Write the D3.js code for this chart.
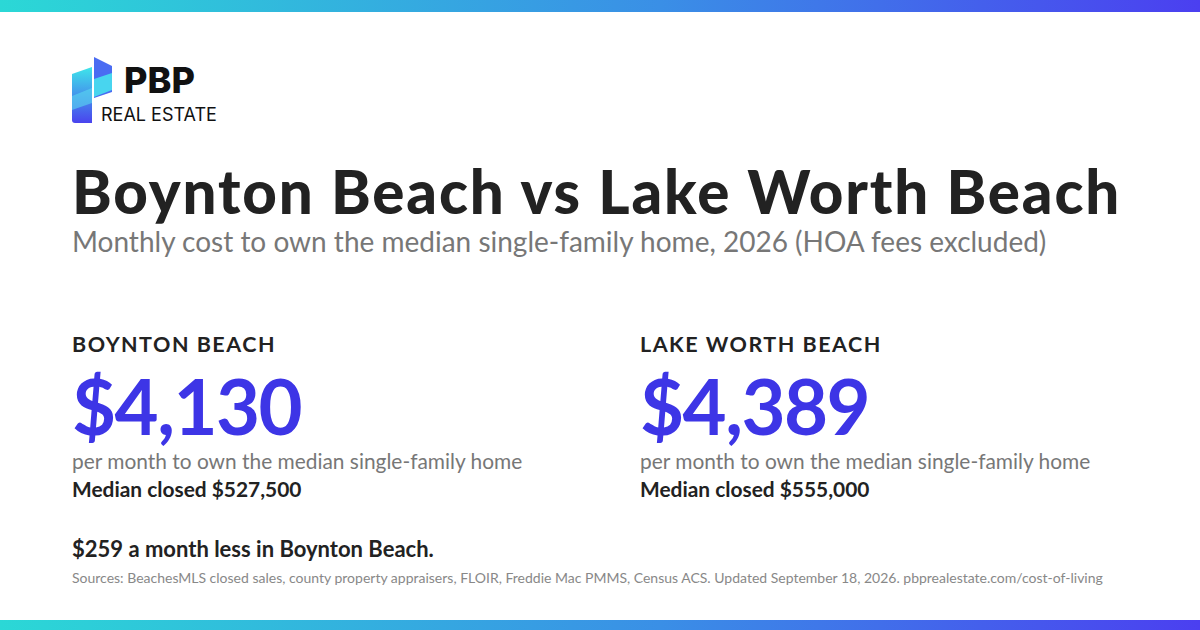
<!DOCTYPE html>
<html><head><meta charset="utf-8">
<script src="https://cdn.jsdelivr.net/npm/d3@7"></script>
<style>body{margin:0;background:#fff}svg{display:block}</style>
</head><body>
<svg id="c" width="1200" height="630"></svg>
<script>
// Data
const cities = ["BOYNTON BEACH", "LAKE WORTH BEACH"];
const monthlyCost = [4130, 4389];
const medianClosed = [527500, 555000];
const title = "Boynton Beach vs Lake Worth Beach";
const subtitle = "Monthly cost to own the median single-family home, 2026 (HOA fees excluded)";
const sources = "Sources: BeachesMLS closed sales, county property appraisers, FLOIR, Freddie Mac PMMS, Census ACS. Updated September 18, 2026. pbprealestate.com/cost-of-living";

const svg = d3.select("#c");
const F = "Lato, 'Open Sans', sans-serif";

const defs = svg.append("defs");
const g = defs.append("linearGradient").attr("id", "bar");
g.append("stop").attr("offset", "0%").attr("stop-color", "#2bd8d6");
g.append("stop").attr("offset", "55%").attr("stop-color", "#3a8fe6");
g.append("stop").attr("offset", "100%").attr("stop-color", "#4b3ff0");
const lg = defs.append("linearGradient").attr("id", "logo").attr("x1", 0).attr("y1", 0).attr("x2", 0).attr("y2", 1);
lg.append("stop").attr("offset", "0%").attr("stop-color", "#3ee6ea");
lg.append("stop").attr("offset", "100%").attr("stop-color", "#4a43ee");

svg.append("rect").attr("width", 1200).attr("height", 12).attr("fill", "url(#bar)");
svg.append("rect").attr("y", 620).attr("width", 1200).attr("height", 10).attr("fill", "url(#bar)");

// Logo
const logo = svg.append("g");
logo.append("path").attr("d", "M72,74 L92,67 L92,123 L75,123 Q72,123 72,120 Z").attr("fill", "url(#logo)");
logo.append("path").attr("d", "M94,57 L112,66 L112,92 L94,98 Z").attr("fill", "#4a6cf2");
logo.append("path").attr("d", "M94,79 L112,73 L112,90 L94,97 Z").attr("fill", "#48e8ee").attr("opacity", 0.85);
logo.append("path").attr("d", "M72,96 L92,88 L92,103 L72,110 Z").attr("fill", "#5ad8f0").attr("opacity", 0.6);
logo.append("text").attr("x", 124).attr("y", 93).attr("font-family", "Inter, sans-serif").attr("font-weight", 800)
  .attr("font-size", 36).attr("fill", "#111").text("PBP");
logo.append("text").attr("x", 101).attr("y", 121).attr("font-family", "Inter, sans-serif").attr("font-weight", 400)
  .attr("font-size", 18).attr("fill", "#111").text("REAL ESTATE");

svg.append("text").attr("x", 72).attr("y", 214).attr("font-family", F).attr("font-weight", 900)
  .attr("font-size", 60).attr("letter-spacing", 1.9).attr("fill", "#222").text(title);
svg.append("text").attr("x", 72).attr("y", 252).attr("font-family", F).attr("font-size", 28)
  .attr("fill", "#777").text(subtitle);

const x = d3.scalePoint().domain(cities).range([72, 640]);
const fmt = d3.format(",");
cities.forEach((c, i) => {
  const col = svg.append("g").attr("transform", `translate(${x(c)},0)`);
  col.append("text").attr("y", 352).attr("font-family", F).attr("font-weight", 700).attr("font-size", 21.5)
    .attr("fill", "#222").attr("letter-spacing", 1.5).text(c);
  col.append("text").attr("y", 435).attr("font-family", F).attr("font-weight", 700).attr("font-size", 76)
    .attr("fill", "#3d35e6").attr("letter-spacing", -1.5).text("$" + fmt(monthlyCost[i]));
  col.append("text").attr("y", 469).attr("font-family", F).attr("font-size", 20.9)
    .attr("fill", "#777").text("per month to own the median single-family home");
  col.append("text").attr("y", 497).attr("font-family", F).attr("font-weight", 700).attr("font-size", 20.9)
    .attr("fill", "#222").text("Median closed $" + fmt(medianClosed[i]));
});

const diff = monthlyCost[1] - monthlyCost[0];
svg.append("text").attr("x", 72).attr("y", 557).attr("font-family", F).attr("font-weight", 700).attr("font-size", 22)
  .attr("fill", "#222").text(`$${diff} a month less in Boynton Beach.`);
svg.append("text").attr("x", 72).attr("y", 583).attr("font-family", F).attr("font-size", 14)
  .attr("fill", "#888").text(sources);
</script>
</body></html>
